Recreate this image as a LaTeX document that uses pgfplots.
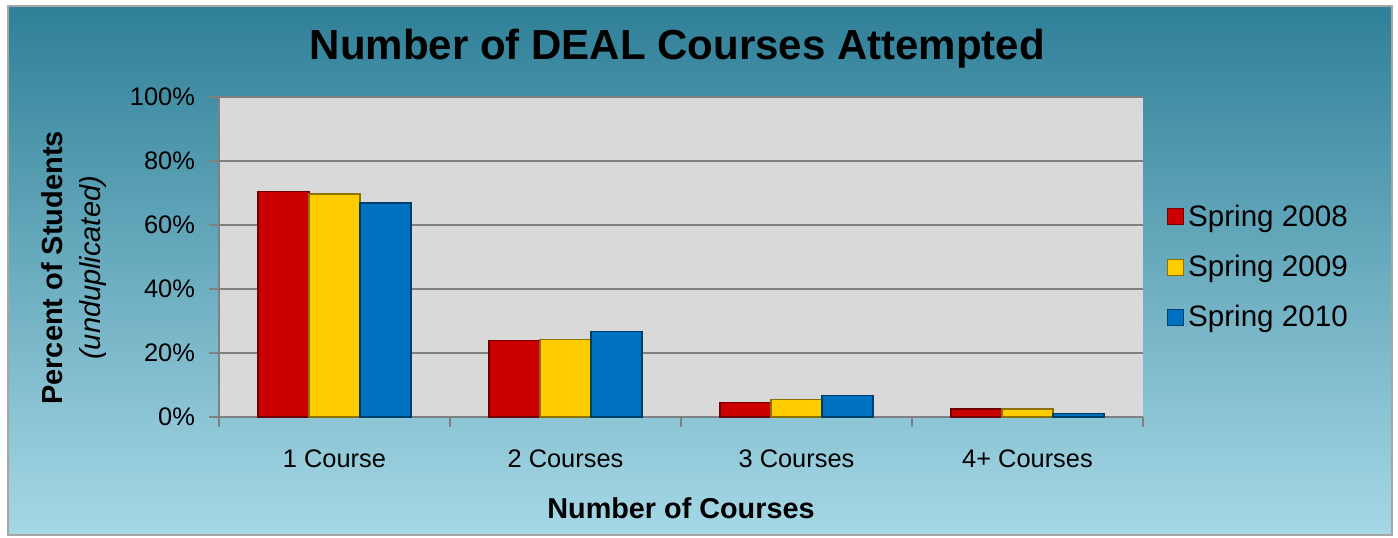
\documentclass[border=0pt]{standalone}
\usepackage{pgfplots}
\pgfplotsset{compat=1.18}
\usepackage{fontspec}
\setmainfont{Liberation Sans}
\definecolor{bgtop}{RGB}{47,128,152}
\definecolor{bgbot}{RGB}{166,216,230}
\definecolor{plotbg}{RGB}{217,217,217}
\definecolor{cred}{RGB}{204,0,0}
\definecolor{cyel}{RGB}{255,204,0}
\definecolor{cblue}{RGB}{0,112,192}
\begin{document}
\begin{tikzpicture}
\path[use as bounding box] (-109.5pt,-60pt) rectangle (589.5pt,208.5pt);
\fill[white] (-109.5pt,-60pt) rectangle (589.5pt,208.5pt);
\shade[top color=bgtop, bottom color=bgbot] (-105.5pt,-59pt) rectangle (586.5pt,205.5pt);
\draw[gray!70, line width=0.6pt] (-105.5pt,-59pt) rectangle (586.5pt,205.5pt);
\begin{axis}[
  at={(0,0)}, anchor=south west,
  scale only axis, width=462pt, height=160pt,
  /pgf/number format/assume math mode=true,
  axis background/.style={fill=plotbg},
  xmin=-0.5, xmax=3.5, ymin=0, ymax=100,
  axis x line=bottom, axis y line=left,
  axis line style={-, draw=gray, line width=0.8pt},
  tick align=outside, major tick length=5pt,
  tick style={draw=gray, line width=0.8pt},
  ytick={0,20,...,100},
  yticklabel={\pgfmathprintnumber{\tick}\%},
  ymajorgrids, grid style={draw=gray, line width=0.8pt},
  xtick={-0.5,0.5,1.5,2.5,3.5},
  x tick label as interval,
  xticklabels={1 Course,2 Courses,3 Courses,4+ Courses},
  ticklabel style={font=\fontsize{12.7}{14}\selectfont},
  xticklabel style={yshift=-8pt},
  yticklabel style={xshift=-3.5pt},
  ybar=0pt, bar width=25.5pt,
  title={\textbf{Number of DEAL Courses Attempted}},
  title style={font=\fontsize{21}{24}\selectfont, at={(axis description cs:0.496,1.115)}, anchor=center},
  xlabel={\textbf{Number of Courses}},
  xlabel style={font=\fontsize{14.4}{16}\selectfont, at={(axis description cs:0.5,-0.284)}, anchor=center},
  ylabel={\textbf{Percent of Students}\\\textit{(unduplicated)}},
  ylabel style={font=\fontsize{14.5}{19}\selectfont, align=center, at={(axis description cs:-0.157,0.466)}, anchor=center},
  legend style={at={(axis description cs:1.019,0.69)}, anchor=north west, draw=none, fill=none,
    font=\fontsize{14.8}{17}\selectfont, row sep=9pt, cells={anchor=west}},
  legend image code/.code={\draw[#1] (0pt,-4pt) rectangle (8pt,4pt);},
]
\addplot[fill=cred, draw=cred!55!black, line width=0.6pt] coordinates {(0,70.5) (1,24.0) (2,4.5) (3,2.5)};
\addplot[fill=cyel, draw=cyel!55!black, line width=0.6pt] coordinates {(0,69.7) (1,24.3) (2,5.4) (3,2.5)};
\addplot[fill=cblue, draw=cblue!55!black, line width=0.6pt] coordinates {(0,66.9) (1,26.6) (2,6.6) (3,1.0)};
\legend{Spring 2008,Spring 2009,Spring 2010}
\end{axis}
\end{tikzpicture}
\end{document}
